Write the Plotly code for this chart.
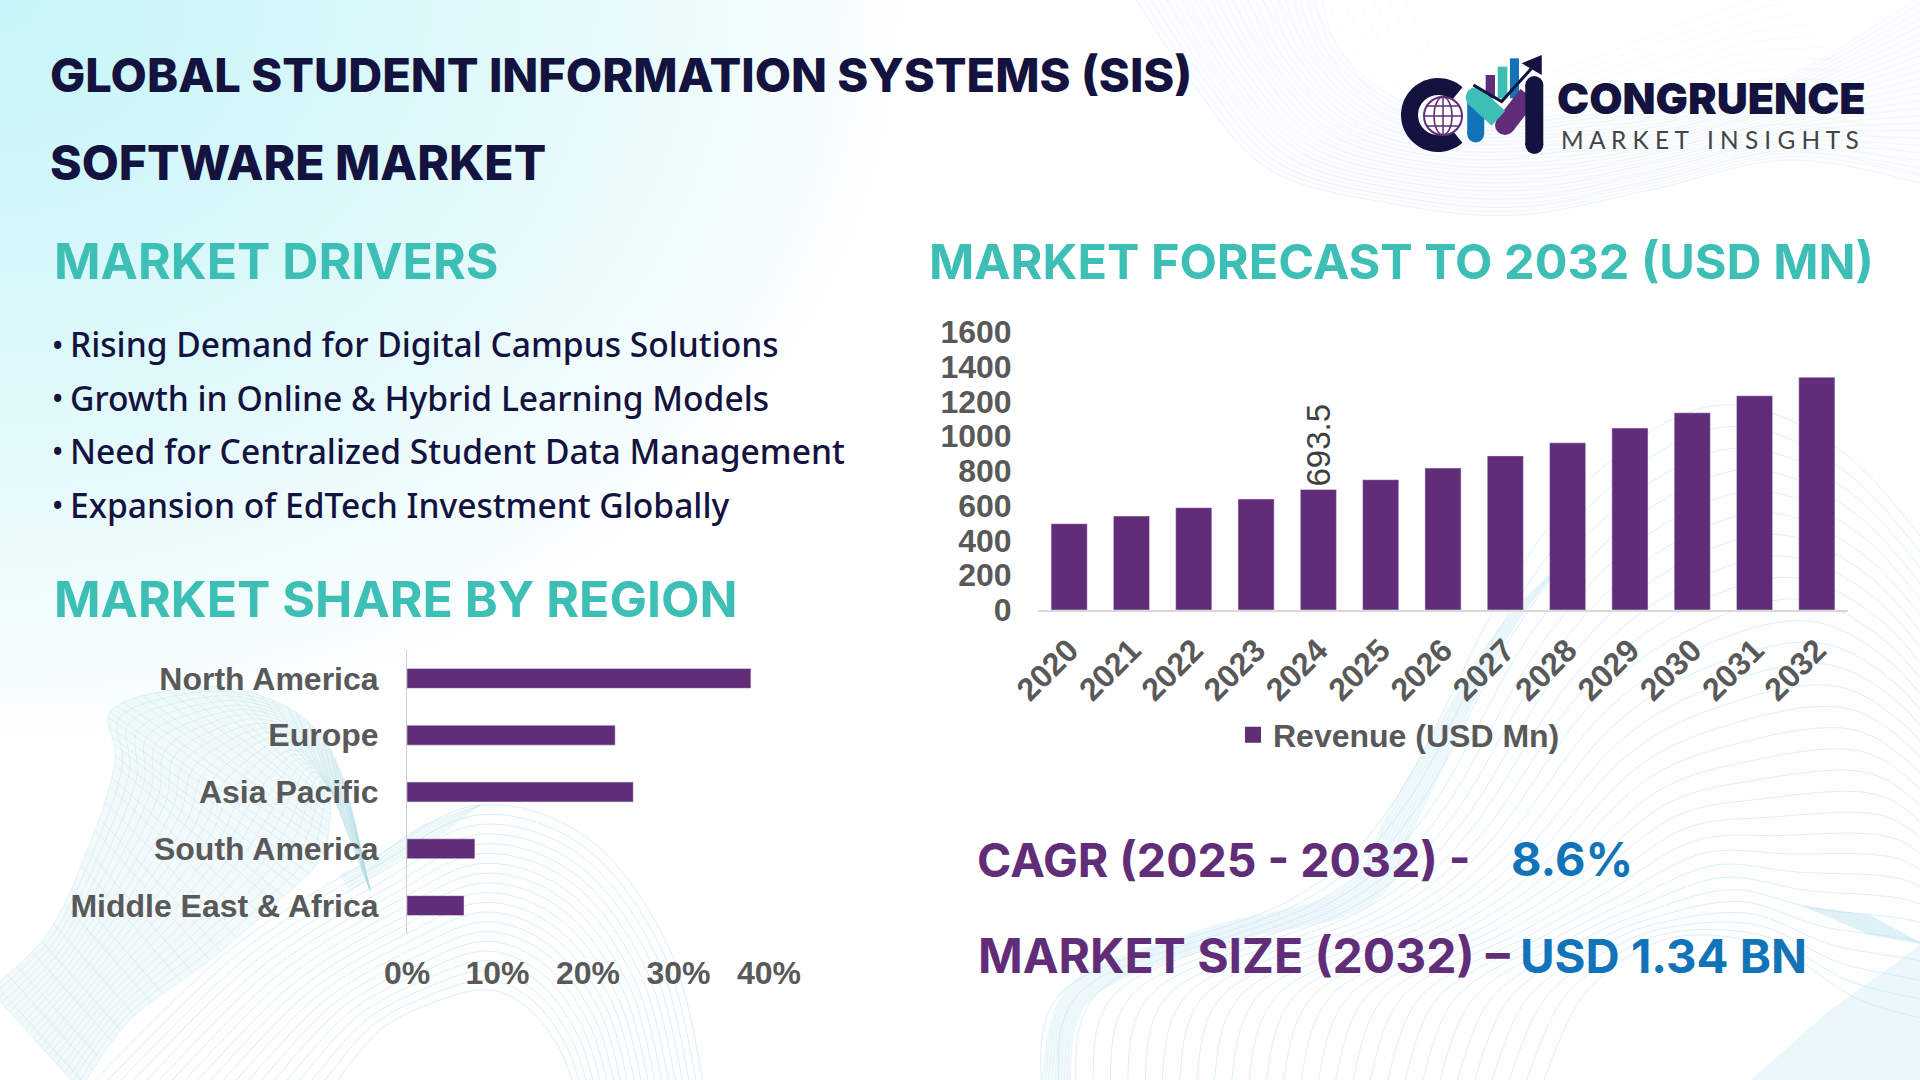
import numpy as np
import plotly.graph_objs as go

# chart data
regions = ["North America", "Europe", "Asia Pacific", "South America", "Middle East & Africa"]
region_share = [38, 23, 25, 7.5, 6.3]
share_ticks = [0, 10, 20, 30, 40]
share_tick_labels = ["0%", "10%", "20%", "30%", "40%"]
years = ["2020", "2021", "2022", "2023", "2024", "2025", "2026", "2027", "2028", "2029", "2030", "2031", "2032"]
revenue = [497, 541, 589, 639, 693.5, 750, 817, 887, 962, 1047, 1135, 1233, 1340]
revenue_labels = ["", "", "", "", "693.5", "", "", "", "", "", "", "", ""]
drivers = ["Rising Demand for Digital Campus Solutions",
           "Growth in Online & Hybrid Learning Models",
           "Need for Centralized Student Data Management",
           "Expansion of EdTech Investment Globally"]

W = 1920
H = 1080
PURPLE = "#622d78"
TEAL = "#3dbfb5"
NAVY = "#14123f"
BLUE = "#1273b8"
GREY = "#595959"
HEAD = "Inter"


def px(x):
    return x / W


def py(y):
    return 1 - y / H


def spline(pts, n=14):
    # catmull-rom so the background lines come out smooth
    p = np.array(pts, dtype=float)
    p = np.vstack([p[0], p, p[-1]])
    out = []
    for i in range(1, len(p) - 2):
        for t in np.linspace(0, 1, n, endpoint=False):
            out.append(0.5 * (2 * p[i] + (p[i + 1] - p[i - 1]) * t
                              + (2 * p[i - 1] - 5 * p[i] + 4 * p[i + 1] - p[i + 2]) * t ** 2
                              + (3 * p[i] - p[i - 1] - 3 * p[i + 1] + p[i + 2]) * t ** 3))
    out.append(p[-2])
    return np.array(out)


def path_of(pts, close=False):
    s = "M " + " L ".join("%.4f %.4f" % (px(a), py(b)) for a, b in pts)
    return s + (" Z" if close else "")


shapes = []


def line_shape(pts, color, width=1):
    shapes.append(dict(type="path", xref="paper", yref="paper", layer="below", path=path_of(pts),
                       line=dict(color=color, width=width)))


def fill_shape(pts, color):
    shapes.append(dict(type="path", xref="paper", yref="paper", layer="below", path=path_of(pts, True),
                       fillcolor=color, line=dict(width=0)))


def family(a, b, n, color, width=1):
    a = spline(a)
    b = spline(b)
    for t in np.linspace(0, 1, n):
        line_shape((1 - t) * a + t * b, color, width)


def ribbon(a, b, n_long, n_cross, color, fill):
    ca = spline(a)
    cb = spline(b)
    fill_shape(np.vstack([ca, cb[::-1]]), fill)
    for t in np.linspace(0, 1, n_long):
        line_shape((1 - t) * ca + t * cb, color, 0.7)
    if n_cross:
        for i in np.linspace(0, len(ca) - 1, n_cross).astype(int):
            line_shape([ca[i], cb[i]], color, 0.7)


# cyan glow in the top left corner, opaque rings from white inwards
corner = np.array([197, 245, 248])
for k in np.linspace(1, 0.02, 56):
    c = 255 + (corner - 255) * (1 - k) ** 0.85
    shapes.append(dict(type="circle", xref="paper", yref="paper", layer="below",
                       x0=px(-930 * k), x1=px(930 * k), y0=py(-760 * k), y1=py(760 * k),
                       fillcolor="rgb(%d,%d,%d)" % tuple(c), line=dict(width=0)))

# top right ribbon, two line sets crossing at a shallow angle
ribbon([(1130, -10), (1190, 80), (1270, 170), (1400, 205), (1520, 215), (1650, 190), (1790, 160), (1930, 185)],
       [(1320, -10), (1340, 50), (1400, 100), (1490, 120), (1600, 110), (1700, 100), (1800, 70), (1930, -10)],
       26, 0, "rgba(195,222,240,0.26)", "rgba(225,240,248,0.12)")
family([(1130, -10), (1190, 80), (1270, 170), (1400, 205), (1520, 215), (1650, 190), (1790, 160), (1930, 185)],
       [(1400, -10), (1420, 30), (1450, 70), (1500, 90), (1560, 70), (1640, 40), (1720, 10), (1780, -10)],
       18, "rgba(195,222,240,0.2)", 0.7)

# bottom left ribbon and arches
family([(90, 1085), (230, 950), (370, 860), (480, 805), (590, 840), (670, 950), (705, 1090)],
       [(330, 1090), (380, 1030), (440, 1000), (490, 990), (530, 1010), (560, 1050), (575, 1090)],
       20, "rgba(185,225,235,0.55)")
ribbon([(-10, 990), (50, 930), (95, 830), (115, 760), (110, 712), (160, 692), (230, 688), (300, 715), (340, 770), (370, 890)],
       [(80, 1090), (130, 1020), (210, 960), (280, 900), (320, 860), (330, 820), (330, 790), (335, 800), (350, 840), (370, 890)],
       24, 50, "rgba(170,215,228,0.4)", "rgba(195,230,238,0.22)")
ribbon([(340, 875), (377, 857), (420, 827), (480, 805)],
       [(350, 890), (390, 865), (440, 835), (480, 805)],
       6, 2, "rgba(170,215,228,0.3)", "rgba(195,230,238,0.22)")

# bottom right arches and shaded lobes
family([(1040, 1090), (1070, 985), (1290, 900), (1395, 800), (1500, 600), (1600, 470), (1720, 405), (1840, 450), (1940, 560)],
       [(1540, 1090), (1580, 1000), (1640, 950), (1700, 935), (1780, 950), (1860, 1000), (1960, 1030), (1980, 1060), (1990, 1090)],
       30, "rgba(185,228,238,0.55)")
ribbon([(1040, 1090), (1070, 985), (1200, 930), (1340, 890), (1395, 800), (1490, 640), (1565, 560)],
       [(1070, 1090), (1090, 1000), (1220, 945), (1370, 905), (1420, 815), (1500, 650), (1565, 560)],
       10, 0, "rgba(185,225,238,0.3)", "rgba(205,235,243,0.28)")
fill_shape([(1745, 1085), (1830, 1010), (1900, 960), (1925, 940), (1925, 1085)], "rgba(205,235,243,0.4)")
fill_shape([(1800, 905), (1870, 915), (1925, 945), (1870, 935)], "rgba(190,228,238,0.5)")


def lx(z):
    return 1390 + z / 3


def ly(z):
    return 40 + z / 3


def stroke(pts, color, width):
    shapes.append(dict(type="path", xref="paper", yref="paper", layer="above",
                       path=path_of([(lx(a), ly(b)) for a, b in pts]),
                       line=dict(color=color, width=width)))


def dot(a, b, r, color):
    # round end for a logo stroke, shapes have no line caps
    shapes.append(dict(type="circle", xref="paper", yref="paper", layer="above",
                       x0=px(lx(a) - r), x1=px(lx(a) + r), y0=py(ly(b) - r), y1=py(ly(b) + r),
                       fillcolor=color, line=dict(width=0)))


# logo, drawn out of paths
ang = np.radians(np.linspace(48, 312, 50))
shapes.append(dict(type="path", xref="paper", yref="paper", layer="above",
                   path=path_of([(1438 + 28.5 * np.cos(t), 115 - 28.5 * np.sin(t)) for t in ang]),
                   line=dict(color=NAVY, width=17)))
shapes.append(dict(type="circle", xref="paper", yref="paper", layer="above",
                   x0=px(1424), x1=px(1462), y0=py(97), y1=py(135),
                   fillcolor="white", line=dict(color=PURPLE, width=2)))
shapes.append(dict(type="circle", xref="paper", yref="paper", layer="above",
                   x0=px(1434), x1=px(1452), y0=py(97), y1=py(135),
                   line=dict(color=PURPLE, width=1.5)))
for yy in [106, 116, 126]:
    half = 19 if yy == 116 else 16
    shapes.append(dict(type="line", xref="paper", yref="paper", layer="above",
                       x0=px(1443 - half), x1=px(1443 + half), y0=py(yy), y1=py(yy),
                       line=dict(color=PURPLE, width=1.5)))
shapes.append(dict(type="line", xref="paper", yref="paper", layer="above",
                   x0=px(1443), x1=px(1443), y0=py(97), y1=py(135),
                   line=dict(color=PURPLE, width=1.5)))
for x0, x1, y0, color in [(287, 315, 105, PURPLE), (323, 352, 80, TEAL), (360, 387, 55, BLUE)]:
    shapes.append(dict(type="rect", xref="paper", yref="paper", layer="above",
                       x0=px(lx(x0)), x1=px(lx(x1)), y0=py(ly(y0)), y1=py(ly(175)),
                       fillcolor=color, line=dict(width=0)))
stroke([(257, 172), (257, 282)], BLUE, 17)
dot(257, 282, 8.5, BLUE)
stroke([(345, 255), (415, 165)], PURPLE, 20)
dot(345, 255, 10, PURPLE)
stroke([(257, 172), (325, 235)], TEAL, 20)
dot(257, 172, 10, TEAL)
stroke([(433, 135), (433, 315)], NAVY, 18)
dot(433, 135, 9, NAVY)
dot(433, 315, 9, NAVY)
stroke([(250, 135), (335, 185), (425, 85)], NAVY, 3)
shapes.append(dict(type="path", xref="paper", yref="paper", layer="above",
                   path=path_of([(lx(455), ly(45)), (lx(395), ly(70)), (lx(455), ly(105))], True),
                   fillcolor=NAVY, line=dict(width=0)))

# the two charts
fig = go.Figure()
fig.add_trace(go.Bar(x=region_share, y=regions, orientation="h", marker=dict(color=PURPLE),
                     width=0.35, xaxis="x", yaxis="y", showlegend=False))
fig.add_trace(go.Bar(x=years, y=revenue, marker=dict(color=PURPLE), width=0.58, showlegend=False,
                     text=revenue_labels, textposition="outside", textangle=-90, cliponaxis=False,
                     constraintext="none",
                     textfont=dict(family="Liberation Sans", size=33, color="#404040"),
                     xaxis="x2", yaxis="y2"))
# square legend key, the bar trace key is too small
fig.add_trace(go.Scatter(x=[None], y=[None], mode="markers", name="Revenue (USD Mn)",
                         marker=dict(color=PURPLE, symbol="square", size=18),
                         xaxis="x2", yaxis="y2"))

tick_font = dict(family="Liberation Sans", size=32, color=GREY, weight="bold")
clear = "rgba(0,0,0,0)"

annotations = []


def add_text(x, y, text, size, color, weight=700, family=HEAD):
    annotations.append(dict(xref="paper", yref="paper", x=px(x), y=py(y), text=text, showarrow=False,
                            xanchor="left", yanchor="middle",
                            font=dict(family=family, size=size, color=color, weight=weight)))


add_text(48, 74, "GLOBAL STUDENT INFORMATION SYSTEMS (SIS)", 47, NAVY, 800)
add_text(48, 163, "SOFTWARE MARKET", 48, NAVY, 800)
add_text(52, 261, "MARKET DRIVERS", 50, TEAL)
add_text(52, 599, "MARKET SHARE BY REGION", 50, TEAL)
add_text(927, 261, "MARKET FORECAST TO 2032 (USD MN)", 48.6, TEAL)
for y, d in zip([344, 398, 451, 505], drivers):
    add_text(50, y, "•", 30, NAVY, 500, "Noto Sans")
    add_text(68, y, d, 33.6, NAVY, 500, "Noto Sans")
add_text(975, 860, "CAGR (2025 - 2032) -", 46.5, PURPLE)
add_text(1509, 858, "8.6%", 47, BLUE)
add_text(976, 955, "MARKET SIZE (2032) –", 48, PURPLE)
add_text(1518, 955, "USD 1.34 BN", 47.3, BLUE)
add_text(1555, 98, "CONGRUENCE", 43, NAVY, 900)
add_text(1559, 139, "M A R K E T   I N S I G H T S", 24.4, "#444444", 400, "Lato")

fig.update_layout(
    width=W, height=H, margin=dict(l=0, r=0, t=0, b=0),
    paper_bgcolor="white", plot_bgcolor=clear,
    shapes=shapes, annotations=annotations,
    xaxis=dict(domain=[px(407), px(769)], range=[0, 40], tickvals=share_ticks, ticktext=share_tick_labels,
               showgrid=False, zeroline=False, showline=False, tickfont=tick_font, automargin=False,
               ticks="outside", ticklen=11, tickcolor=clear, anchor="y"),
    yaxis=dict(domain=[py(934), py(650)], autorange="reversed", showgrid=False, zeroline=False,
               showline=True, linecolor="#d0d0d0", linewidth=1, tickfont=tick_font, automargin=False,
               ticks="outside", ticklen=21, tickcolor=clear, anchor="x"),
    xaxis2=dict(domain=[px(1038), px(1848)], showgrid=False, zeroline=False, showline=True,
                linecolor="#d9d9d9", linewidth=1.5, tickangle=-45, tickfont=tick_font, automargin=False,
                ticks="outside", ticklen=7, tickcolor=clear, anchor="y2"),
    yaxis2=dict(domain=[py(610), py(332)], range=[0, 1600], dtick=200, showgrid=False, zeroline=False,
                showline=False, tickfont=tick_font, automargin=False,
                ticks="outside", ticklen=19, tickcolor=clear, anchor="x2"),
    showlegend=True,
    legend=dict(x=px(1233), y=py(735), xanchor="left", yanchor="middle", bgcolor=clear,
                font=dict(family="Liberation Sans", size=32, color=GREY, weight="bold")),
)

fig.write_html("out.html", config=dict(displayModeBar=False),
               post_script="document.body.style.margin='0';document.body.style.overflow='hidden';")
